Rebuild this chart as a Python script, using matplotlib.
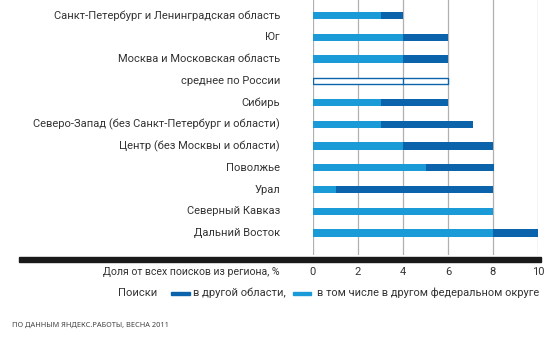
import matplotlib
matplotlib.use("Agg")
import matplotlib.pyplot as plt
from matplotlib.patches import Rectangle

regions = [
    "Санкт-Петербург и Ленинградская область",
    "Юг",
    "Москва и Московская область",
    "среднее по России",
    "Сибирь",
    "Северо-Запад (без Санкт-Петербург и области)",
    "Центр (без Москвы и области)",
    "Поволжье",
    "Урал",
    "Северный Кавказ",
    "Дальний Восток",
]
other_region = [4, 6, 6, 6, 6, 7.1, 8, 8.05, 8, 8, 10]
other_district = [3, 4, 4, 4, 3, 3, 4, 5, 1, 8, 8]
avg_index = 3
xticks = [0, 2, 4, 6, 8, 10]
xlabel = "Доля от всех поисков из региона, %"
legend_title = "Поиски"
legend_labels = ["в другой области,", "в том числе в другом федеральном округе"]
source = "ПО ДАННЫМ ЯНДЕКС.РАБОТЫ, ВЕСНА 2011"

DARK = "#0b63ab"
LIGHT = "#1a9bd7"
TXT = "#333333"
FONT = "Roboto"
FS = 8.0

W, H = 551, 339
plt.rcParams["font.family"] = [FONT, "DejaVu Sans"]
fig = plt.figure(figsize=(W / 100, H / 100), dpi=100)

def fx(px):
    return px / W

def fy(py):
    return 1 - py / H

ax = fig.add_axes([fx(313), fy(255), fx(538) - fx(313), fy(0) - fy(255)])
ax.set_xlim(0, 10)
ax.set_ylim(11.01, -0.713)
for s in ax.spines.values():
    s.set_visible(False)
ax.set_xticks(xticks)
ax.set_yticks([])
ax.tick_params(axis="x", length=0, labelbottom=False)
ax.grid(axis="x", color="#b0b0b0", lw=0.9)
ax.set_axisbelow(True)

bh = 0.33
for i, (tot, part) in enumerate(zip(other_region, other_district)):
    if i == avg_index:
        ax.barh(i, tot, height=bh * 0.85, color="white", edgecolor=DARK, lw=1.0, zorder=3)
        ax.plot([part, part], [i - bh * 0.42, i + bh * 0.42], color=DARK, lw=1.0, zorder=4)
    else:
        ax.barh(i, tot, height=bh, color=DARK, zorder=3, lw=0)
        ax.barh(i, part, height=bh, color=LIGHT, zorder=3, lw=0)

for i, r in enumerate(regions):
    y_px = 15.5 + 21.75 * i
    fig.text(fx(280), fy(y_px), r, ha="right", va="center", fontsize=FS, color=TXT)

# black baseline bar
fig.patches.append(Rectangle((fx(19), fy(262)), fx(541) - fx(19), fy(257) - fy(262),
                             transform=fig.transFigure, color="#1a1a1a", zorder=5))

# tick labels
for t in xticks:
    px = 313 + 22.5 * t
    fig.text(fx(px), fy(272), str(t), ha="center", va="center", fontsize=FS, color=TXT)
fig.text(fx(280), fy(272), xlabel, ha="right", va="center", fontsize=7.6, color=TXT)

# legend
ly = 293
fig.text(fx(157), fy(ly), legend_title, ha="right", va="center", fontsize=FS, color=TXT)
fig.patches.append(Rectangle((fx(171), fy(ly + 2)), fx(190) - fx(171), fy(ly - 1) - fy(ly + 2),
                             transform=fig.transFigure, color=DARK))
fig.text(fx(193), fy(ly), legend_labels[0], ha="left", va="center", fontsize=FS, color=TXT)
fig.patches.append(Rectangle((fx(293), fy(ly + 2)), fx(311) - fx(293), fy(ly - 1) - fy(ly + 2),
                             transform=fig.transFigure, color=LIGHT))
fig.text(fx(317), fy(ly), legend_labels[1], ha="left", va="center", fontsize=7.9, color=TXT)

fig.text(fx(12), fy(325), source, ha="left", va="center", fontsize=5.3,
         color="#444444", family=["Noto Sans", "DejaVu Sans"])

fig.savefig("out.png", dpi=100)
